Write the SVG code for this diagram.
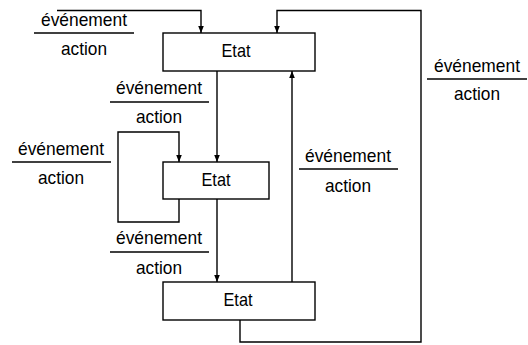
<svg xmlns="http://www.w3.org/2000/svg" width="528" height="345" viewBox="0 0 528 345">
<defs>
<marker id="ah" viewBox="0 0 10 10" refX="10" refY="5" markerWidth="7" markerHeight="7" markerUnits="userSpaceOnUse" orient="auto">
<path d="M0,1 L10,5 L0,9 Z" fill="#000"/>
</marker>
</defs>
<style>
.box{fill:#fff;stroke:#000;stroke-width:1.4}
.ln{fill:none;stroke:#000;stroke-width:1.4}
.t{font-family:"Liberation Sans",Arial,sans-serif;font-size:18.5px;text-anchor:middle;fill:#000}
.bar{stroke:#000;stroke-width:1.4}
</style>
<rect width="528" height="345" fill="#fff"/>
<g id="connectors">
<path class="ln" d="M57,10.5 H201 V33" marker-end="url(#ah)"/>
<path class="ln" d="M217,71 V162" marker-end="url(#ah)"/>
<path class="ln" d="M179,199 V222 H118 V132 H179 V162" marker-end="url(#ah)"/>
<path class="ln" d="M217,199 V282" marker-end="url(#ah)"/>
<path class="ln" d="M292,282 V71" marker-end="url(#ah)"/>
<path class="ln" d="M240,320 V342 H421 V10.5 H277 V33" marker-end="url(#ah)"/>
</g>
<g id="node-etat1">
<rect class="box" x="163" y="33" width="152" height="38"/>
<text class="t" x="236" y="57" textLength="29" lengthAdjust="spacingAndGlyphs">Etat</text>
</g>
<g id="node-etat2">
<rect class="box" x="163" y="162" width="106" height="37"/>
<text class="t" x="216" y="186" textLength="29" lengthAdjust="spacingAndGlyphs">Etat</text>
</g>
<g id="node-etat3">
<rect class="box" x="163" y="282" width="152" height="38"/>
<text class="t" x="238" y="306" textLength="29" lengthAdjust="spacingAndGlyphs">Etat</text>
</g>
<g id="label1">
<text class="t" x="84" y="26" textLength="86" lengthAdjust="spacingAndGlyphs">événement</text>
<line class="bar" x1="34" y1="33" x2="134" y2="33"/>
<text class="t" x="84" y="55" textLength="46" lengthAdjust="spacingAndGlyphs">action</text>
</g>
<g id="label2">
<text class="t" x="159" y="94" textLength="86" lengthAdjust="spacingAndGlyphs">événement</text>
<line class="bar" x1="110" y1="102" x2="209" y2="102"/>
<text class="t" x="159" y="123" textLength="46" lengthAdjust="spacingAndGlyphs">action</text>
</g>
<g id="label3">
<text class="t" x="61" y="155" textLength="86" lengthAdjust="spacingAndGlyphs">événement</text>
<line class="bar" x1="12" y1="162" x2="111" y2="162"/>
<text class="t" x="61" y="184" textLength="46" lengthAdjust="spacingAndGlyphs">action</text>
</g>
<g id="label4">
<text class="t" x="159" y="244" textLength="86" lengthAdjust="spacingAndGlyphs">événement</text>
<line class="bar" x1="110" y1="252" x2="209" y2="252"/>
<text class="t" x="159" y="274" textLength="46" lengthAdjust="spacingAndGlyphs">action</text>
</g>
<g id="label5">
<text class="t" x="348" y="162" textLength="86" lengthAdjust="spacingAndGlyphs">événement</text>
<line class="bar" x1="299" y1="169" x2="398" y2="169"/>
<text class="t" x="348" y="192" textLength="46" lengthAdjust="spacingAndGlyphs">action</text>
</g>
<g id="label6">
<text class="t" x="477" y="72" textLength="86" lengthAdjust="spacingAndGlyphs">événement</text>
<line class="bar" x1="427" y1="79" x2="527" y2="79"/>
<text class="t" x="477" y="100" textLength="46" lengthAdjust="spacingAndGlyphs">action</text>
</g>
</svg>
